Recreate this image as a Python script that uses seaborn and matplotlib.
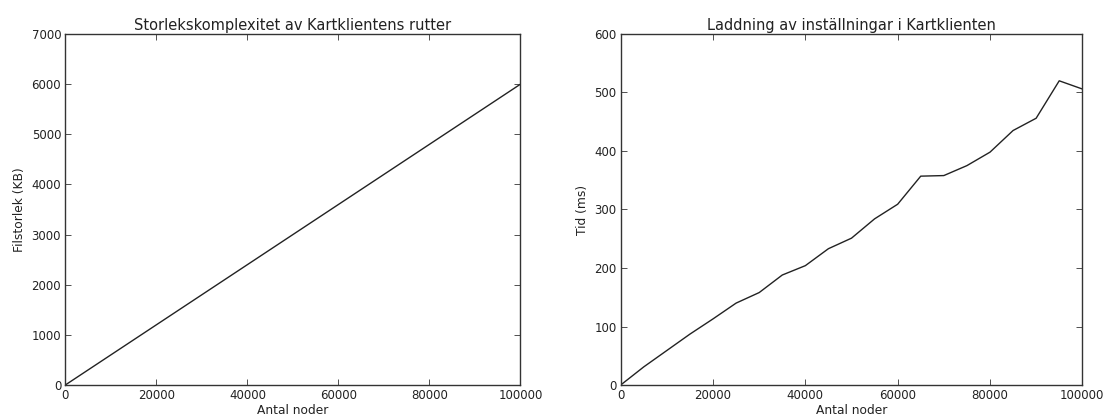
import numpy as np
import pandas as pd
import seaborn as sns
import matplotlib
matplotlib.use("Agg")
import matplotlib.pyplot as plt

# Route file size vs. number of nodes
size_nodes = [0, 10000, 20000, 30000, 40000, 50000, 60000, 70000, 80000, 90000, 100000]
size_kb = [0, 600, 1200, 1800, 2400, 3000, 3600, 4200, 4800, 5400, 6000]

# Settings load time vs. number of nodes
load_nodes = [0, 5000, 10000, 15000, 20000, 25000, 30000, 35000, 40000, 45000, 50000,
              55000, 60000, 65000, 70000, 75000, 80000, 85000, 90000, 95000, 100000]
load_ms = [0, 31, 59, 87, 113, 140, 158, 188, 204, 233, 251,
           284, 309, 357, 358, 375, 398, 435, 456, 520, 506]

x_ticks = [0, 20000, 40000, 60000, 80000, 100000]
size_ticks = [0, 1000, 2000, 3000, 4000, 5000, 6000, 7000]
load_ticks = [0, 100, 200, 300, 400, 500, 600]

sns.set_theme(style="ticks")
plt.rcParams.update({
    "font.family": ["DejaVu Sans"],
    "font.size": 8.5,
    "axes.edgecolor": "#333333",
    "axes.linewidth": 1.0,
    "xtick.direction": "in",
    "ytick.direction": "in",
    "xtick.top": True,
    "ytick.right": True,
    "xtick.major.size": 4,
    "ytick.major.size": 4,
    "xtick.major.width": 0.6,
    "ytick.major.width": 0.6,
    "xtick.color": "#333333",
    "ytick.color": "#333333",
    "xtick.labelcolor": "#222222",
    "ytick.labelcolor": "#222222",
    "xtick.labelsize": 8.5,
    "ytick.labelsize": 8.5,
    "axes.labelsize": 8.8,
    "axes.titlesize": 10.5,
    "text.color": "#222222",
    "axes.labelcolor": "#222222",
})

fig = plt.figure(figsize=(11.06, 4.2), dpi=100)
ax1 = fig.add_axes([65.3 / 1106, 1 - 385 / 420, (520.5 - 65.3) / 1106, (385 - 34) / 420])
ax2 = fig.add_axes([620.7 / 1106, 1 - 385 / 420, (1082.3 - 620.7) / 1106, (385 - 34) / 420])

df1 = pd.DataFrame({"nodes": size_nodes, "kb": size_kb})
df2 = pd.DataFrame({"nodes": load_nodes, "ms": load_ms})

sns.lineplot(data=df1, x="nodes", y="kb", ax=ax1, color="#222222", linewidth=1.0)
sns.lineplot(data=df2, x="nodes", y="ms", ax=ax2, color="#222222", linewidth=1.0)

ax1.set_xlim(0, 100000)
ax1.set_ylim(0, 7000)
ax1.set_xticks(x_ticks)
ax1.set_yticks(size_ticks)
ax1.set_title("Storlekskomplexitet av Kartklientens rutter", pad=3)
ax1.set_xlabel("Antal noder", labelpad=1)
ax1.set_ylabel("Filstorlek (KB)", labelpad=4)

ax2.set_xlim(0, 100000)
ax2.set_ylim(0, 600)
ax2.set_xticks(x_ticks)
ax2.set_yticks(load_ticks)
ax2.set_title("Laddning av inställningar i Kartklienten", pad=3)
ax2.set_xlabel("Antal noder", labelpad=1)
ax2.set_ylabel("Tid (ms)", labelpad=4)

for ax in (ax1, ax2):
    ax.tick_params(axis="both", which="major", pad=3)

fig.savefig("out.png", dpi=100)
